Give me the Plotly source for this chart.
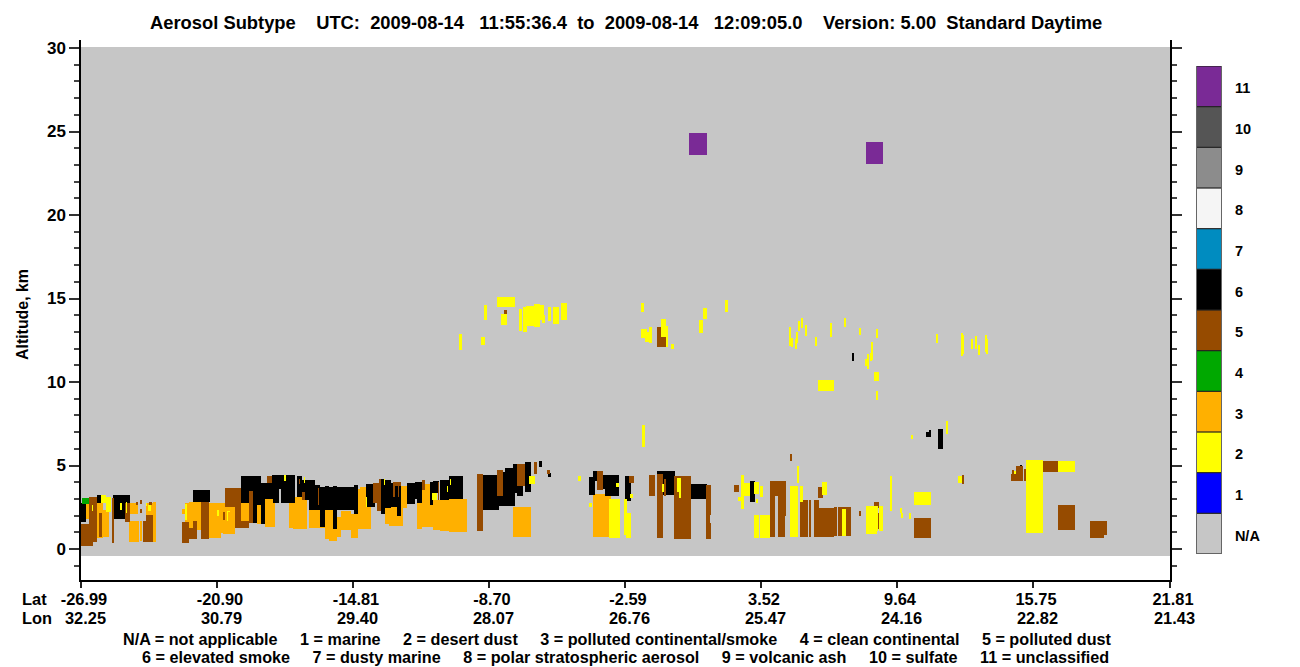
import numpy as np
import plotly.graph_objects as go

# Data: rectangles of one subtype as (profile_start, profile_end, altitude_bin_low, altitude_bin_high)
LAT_LABELS = ["-26.99", "-20.90", "-14.81", "-8.70", "-2.59", "3.52", "9.64", "15.75", "21.81"]
LON_LABELS = ["32.25", "30.79", "29.40", "28.07", "26.76", "25.47", "24.16", "22.82", "21.43"]
TICK_PROFILES = [0, 136, 272, 408, 544, 680, 816, 952, 1089]
LEGEND_LABELS = ["N/A", "1", "2", "3", "4", "5", "6", "7", "8", "9", "10", "11"]
SUBTYPE_COLORS = ["#c6c6c6", "#0000ff", "#ffff00", "#ffb000", "#00a800", "#964b00",
                  "#000000", "#008cc0", "#f5f5f5", "#8c8c8c", "#555555", "#7a2a96"]

POLLUTED_CONTINENTAL = [
    (4,8,30,45),(16,22,11,46),(21,28,12,39),(34,38,39,46),(47,57,35,46),(48,58,7,28),(59,61,8,28),
    (65,72,34,46),(72,75,7,47),(101,104,35,40),(104,108,27,46),(108,120,19,47),(128,140,11,46),
    (140,144,16,46),(142,154,15,29),(144,154,19,42),(160,168,28,46),(176,180,25,44),(184,194,22,50),
    (208,216,21,47),(212,226,20,52),(228,236,21,49),(236,244,21,39),(244,248,10,39),(248,256,8,39),
    (256,260,12,32),(260,270,19,38),(270,277,11,35),(277,290,20,60),(279,290,20,62),(304,308,25,41),
    (308,322,23,42),(320,326,41,63),(336,341,20,46),(341,349,22,65),(349,352,22,46),(352,359,19,49),
    (359,368,18,49),(368,386,17,50),(432,450,12,42),(512,530,12,55),
]
ELEVATED_SMOKE = [
    (0,5,27,46),(16,20,46,54),(32,49,46,54),(33,44,30,46),(112,129,47,59),(124,128,43,47),(160,172,46,73),
    (172,176,26,73),(180,184,25,66),(176,180,44,73),(184,192,50,66),(192,198,46,74),(191,214,60,74),
    (200,214,46,60),(216,221,52,73),(221,234,49,69),(228,239,39,64),(239,244,22,62),(244,248,39,63),
    (248,252,39,62),(252,256,20,63),(256,273,39,62),(273,277,35,64),(285,294,42,65),(300,304,35,70),
    (304,310,41,69),(310,316,42,66),(316,320,33,66),(326,334,45,66),(334,336,50,67),(336,341,46,67),
    (349,352,44,67),(352,358,56,68),(359,368,49,69),(368,382,50,73),(400,418,39,74),(418,434,43,77),
    (424,432,66,81),(432,436,56,85),(436,442,53,63),(444,450,57,87),(458,461,82,88),(467,470,72,76),
    (508,514,54,72),(512,516,68,78),(520,538,60,74),(524,538,53,60),(544,550,48,73),(576,594,54,78),
    (605,608,56,66),(608,626,50,65),(669,674,47,68),(697,700,56,65),(771,773,188,196),(845,850,112,117),
    (848,850,117,119),(857,862,100,120),(939,941,81,84),
]
POLLUTED_DUST = [
    (0,12,3,25),(8,16,7,52),(18,21,12,36),(31,33,6,51),(44,49,27,46),(55,57,44,47),(59,61,45,49),(59,61,36,40),
    (62,65,7,28),(65,72,7,34),(68,71,44,47),(101,108,6,27),(108,116,10,21),(112,116,21,28),(120,128,10,47),
    (142,144,29,37),(144,160,42,61),(154,160,21,42),(160,168,21,28),(168,172,26,58),(186,191,66,73),
    (218,219,65,70),(221,224,49,57),(237,238,44,61),(292,300,46,66),(296,300,38,46),(312,320,63,67),
    (298,300,60,70),(312,314,52,67),(317,318,52,67),(341,344,59,69),(357,358,49,67),(396,402,18,75),
    (416,422,53,79),(436,444,63,85),(453,456,75,87),(466,469,75,79),(516,522,59,78),(548,553,66,73),
    (568,574,53,74),(576,582,11,75),(583,585,53,70),(593,610,10,73),(625,629,10,64),(629,630,34,64),
    (629,630,10,26),(653,658,57,64),(689,705,53,68),(689,694,12,53),(697,704,12,53),(704,705,33,53),
    (709,711,88,95),(719,727,12,49),(728,730,12,49),(733,738,12,49),(738,753,12,41),(753,756,13,42),
    (757,761,13,42),(761,765,40,42),(765,770,13,42),(737,742,51,62),(778,780,33,38),(793,798,41,47),
    (797,798,20,36),(833,850,11,31),(881,883,65,74),(930,942,68,75),(935,942,75,83),(931,933,75,79),
    (943,945,68,80),(949,953,68,78),(961,977,77,88),(977,994,19,44),(1009,1023,11,28),(1023,1026,14,28),
    (423,426,235,239),(576,585,202,222),
]
DESERT_DUST = [
    (20,25,46,54),(25,30,37,52),(11,12,38,44),(39,41,39,46),(45,46,36,47),(67,70,38,44),(65,66,43,46),
    (104,106,29,45),(136,138,33,39),(146,147,28,38),(147,149,37,38),(203,205,68,74),(223,224,66,72),
    (285,286,42,52),(303,304,64,70),(366,367,57,63),(369,370,64,70),(351,356,49,56),(448,454,65,73),
    (497,500,68,73),(508,511,42,46),(535,538,62,66),(528,539,11,50),(549,552,51,55),(543,546,14,50),
    (545,550,11,36),(561,564,102,124),(581,583,57,65),(596,600,57,71),(598,600,51,57),(660,663,40,74),
    (663,669,53,66),(657,660,48,52),(673,678,55,67),(675,677,46,50),(679,682,52,63),(673,678,11,34),
    (679,689,11,34),(716,718,66,83),(709,717,12,63),(719,722,47,63),(761,765,13,40),(741,746,54,67),
    (785,796,15,43),(796,797,18,43),(798,802,18,43),(809,811,38,73),(819,821,36,41),(820,822,31,36),
    (828,830,30,36),(833,850,44,57),(830,832,110,114),(865,867,115,128),(877,881,66,73),(945,962,16,89),
    (977,994,77,88),(933,935,75,78),
    (378,381,199,215),(400,404,204,212),(403,406,229,244),(416,434,242,252),(420,426,224,235),(438,441,218,240),
    (442,446,217,242),(445,453,223,243),(453,459,222,245),(459,463,229,244),(461,464,226,234),(467,470,228,242),
    (472,478,225,242),(480,486,229,246),(560,563,237,246),(560,566,211,220),(564,569,207,217),(568,571,206,222),
    (580,585,212,230),(585,587,202,223),(590,593,200,205),(618,622,216,229),(622,626,230,241),(644,647,237,249),
    (708,710,203,222),(710,712,202,211),(714,716,200,210),(715,717,206,217),(717,719,218,228),(720,722,221,231),
    (724,726,213,224),(734,736,203,212),(749,751,212,226),(763,765,222,231),(778,780,214,221),(795,797,211,220),
    (790,792,189,207),(789,791,188,196),(786,788,180,195),(784,786,183,190),(793,798,168,177),(737,753,158,169),
    (795,797,149,158),(855,857,206,215),(880,882,193,216),(881,883,195,214),(890,892,200,210),(894,896,200,213),
    (897,899,194,204),(904,906,197,214),(905,907,195,210),
]
CLEAN_CONTINENTAL = [(1,8,45,51)]
UNCLASSIFIED = [(608,626,394,416),(785,802,385,407)]

KM_PER_BIN = 1 / 16.7
BIN_MIN, BIN_MAX = -7, 502
N_PROFILES = 1089

grid = np.zeros((BIN_MAX - BIN_MIN, N_PROFILES), dtype=np.int8)
for rects, code in [(POLLUTED_CONTINENTAL, 3), (ELEVATED_SMOKE, 6), (POLLUTED_DUST, 5),
                    (DESERT_DUST, 2), (CLEAN_CONTINENTAL, 4), (UNCLASSIFIED, 11)]:
    for p0, p1, b0, b1 in rects:
        grid[b0 - BIN_MIN:b1 - BIN_MIN, p0:p1] = code

W, H = 1300, 667
px = lambda v: v / W
py = lambda v: 1 - v / H
n = len(SUBTYPE_COLORS)
scale = []
for i, c in enumerate(SUBTYPE_COLORS):
    scale += [[i / n, c], [(i + 1) / n, c]]
FONT = "Liberation Sans"

fig = go.Figure()
fig.add_trace(go.Heatmap(
    z=grid, x=np.arange(N_PROFILES) + 0.5, y=(np.arange(BIN_MIN, BIN_MAX) + 0.5) * KM_PER_BIN,
    colorscale=scale, zmin=-0.5, zmax=11.5, showscale=False, hoverinfo="skip", xaxis="x", yaxis="y"))
fig.add_trace(go.Heatmap(
    z=[[i] for i in range(n)], x=[0], y=list(range(n)),
    colorscale=scale, zmin=-0.5, zmax=11.5, showscale=False, hoverinfo="skip", xaxis="x2", yaxis="y2"))

shapes = [dict(type="line", xref="x2", yref="y2", x0=-0.5, x1=0.5, y0=i - 0.5, y1=i - 0.5,
               line=dict(color="#222222", width=1.2), layer="above") for i in range(n + 1)]

gap = "\u00a0" * 5
row1 = gap.join(["N/A = not applicable", "1 = marine", "2 = desert dust", "3 = polluted continental/smoke",
                 "4 = clean continental", "5 = polluted dust"])
row2 = gap.join(["6 = elevated smoke", "7 = dusty marine", "8 = polar stratospheric aerosol",
                 "9 = volcanic ash", "10 = sulfate", "11 = unclassified"])
title = ("Aerosol Subtype    UTC:  2009-08-14   11:55:36.4  to  2009-08-14   12:09:05.0"
         "    Version: 5.00  Standard Daytime").replace("  ", "\u00a0\u00a0")


def note(text, x, y, size=16.2, xanchor="center", angle=0):
    return dict(text=text, x=px(x), y=py(y), xref="paper", yref="paper", showarrow=False,
                xanchor=xanchor, yanchor="middle", textangle=angle,
                font=dict(family=FONT, size=size, color="#000000", weight=700))


annotations = [
    note(title, 625.5, 23, 18.35),
    note("Altitude, km", 22, 315, 15.9, angle=-90),
    note("Lat", 20, 599, 16.4, "left"),
    note("Lon", 20, 618, 16.4, "left"),
    note(row1, 617, 639),
    note(row2, 625, 657),
]
for prof, lon in zip(TICK_PROFILES, LON_LABELS):
    annotations.append(dict(text=lon, x=prof, xref="x", y=py(618), yref="paper", showarrow=False,
                            xshift=4, xanchor="center", yanchor="middle",
                            font=dict(family=FONT, size=16.4, color="#000000", weight=700)))

fig.update_layout(
    width=W, height=H, margin=dict(l=0, r=0, t=0, b=0), paper_bgcolor="white", plot_bgcolor="white",
    showlegend=False, shapes=shapes, annotations=annotations,
    xaxis=dict(domain=[px(81), px(1170)], range=[0, N_PROFILES], anchor="y", showgrid=False, zeroline=False,
               showline=True, linecolor="#000000", linewidth=1.5, ticks="outside", ticklen=6, tickwidth=1.5,
               tickcolor="#222222", tickmode="array", tickvals=TICK_PROFILES, ticktext=LAT_LABELS,
               ticklabelshift=3, ticklabelstandoff=-2,
               tickfont=dict(family=FONT, size=16.4, color="#000000", weight=700), automargin=False),
    yaxis=dict(domain=[py(580), py(40)], range=[-31 * KM_PER_BIN, 509 * KM_PER_BIN], anchor="x",
               showgrid=False, zeroline=False, showline=True, mirror="ticks", linecolor="#000000", linewidth=1.5,
               ticks="outside", ticklen=10, tickwidth=1.5, tickcolor="#333333", tick0=0, dtick=5,
               tickfont=dict(family=FONT, size=17, color="#000000", weight=700), automargin=False,
               minor=dict(dtick=1, tick0=0, ticks="outside", ticklen=5, tickwidth=1.5, tickcolor="#444444")),
    xaxis2=dict(domain=[px(1196), px(1222)], range=[-0.5, 0.5], anchor="y2", showgrid=False, zeroline=False,
                showticklabels=False, ticks="", showline=False, automargin=False),
    yaxis2=dict(domain=[py(554), py(66)], range=[-0.5, 11.5], anchor="x2", side="right", showgrid=False,
                zeroline=False, showline=False, ticks="outside", ticklen=9, tickcolor="rgba(0,0,0,0)",
                tickmode="array", tickvals=list(range(n)), ticktext=LEGEND_LABELS, automargin=False,
                ticklabelshift=2,
                tickfont=dict(family=FONT, size=14.5, color="#000000", weight=700)),
)
# grey side rails of the legend bar
for x_rail in (-0.5, 0.5):
    fig.add_shape(type="line", xref="x2", yref="y2", x0=x_rail, x1=x_rail, y0=-0.5, y1=11.5,
                  line=dict(color="#666666", width=2), layer="above")

fig.write_html("out.html", config={"displayModeBar": False},
               post_script="document.body.style.margin='0';document.body.style.overflow='hidden';")
